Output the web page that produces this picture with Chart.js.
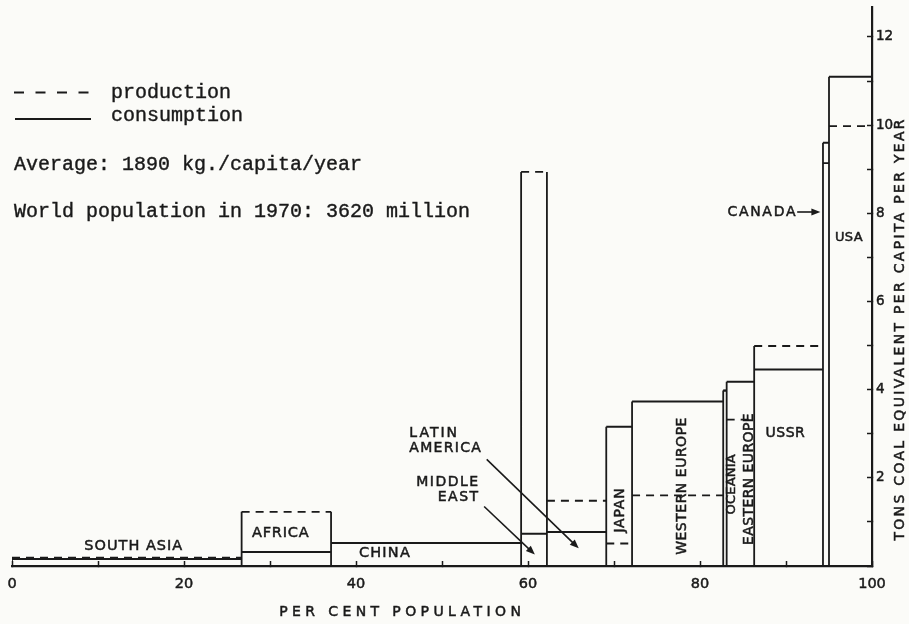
<!DOCTYPE html>
<html>
<head>
<meta charset="utf-8">
<title>Energy consumption and production per capita, 1970</title>
<script src="https://cdn.jsdelivr.net/npm/chart.js@4.4.1/dist/chart.umd.min.js"></script>
<style>
    html, body { margin: 0; padding: 0; background: #fbfbf8; }
    #wrap { position: relative; width: 909px; height: 624px; }
</style>
</head>
<body>
<div id="wrap"><canvas id="energyChart"></canvas></div>
<script>
// Regions in order of rising consumption per head
const regions = ['SOUTH ASIA', 'AFRICA', 'CHINA', 'MIDDLE EAST', 'LATIN AMERICA', 'JAPAN',
    'WESTERN EUROPE', 'OCEANIA', 'EASTERN EUROPE', 'USSR', 'CANADA', 'USA'];
// Share of world population (per cent) -> bar widths
const popShare = [26.7, 10.4, 22.1, 3.0, 6.9, 3.0, 10.6, 0.4, 3.2, 8.0, 0.7, 5.0];
// Tons coal equivalent per capita per year
const consumption = [0.16, 0.32, 0.52, 0.73, 0.77, 3.16, 3.73, 3.98, 4.18, 4.46, 9.60, 11.10];
const production = [0.19, 1.23, 0.52, 8.94, 1.48, 0.51, 1.60, 3.98, 3.32, 4.99, 9.14, 9.98];
// Labelled ticks
const xTickLabels = [0, 20, 40, 60, 80, 100];
const yTickLabels = [2, 4, 6, 8, 10, 12];

const ink = '#1a1a1a';
const letterFont = '"DejaVu Sans", sans-serif';
const typeFont = '"Liberation Mono", "Courier New", monospace';

// Region labels, placed in axis units
const notes = [
    { text: 'SOUTH ASIA', x: 14.1, y: 0.44, size: 14.5, spacing: 1 },
    { text: 'AFRICA', x: 31.2, y: 0.75, size: 14.5, spacing: 0.8 },
    { text: 'CHINA', x: 43.3, y: 0.28, size: 14.5, spacing: 1.2 },
    { text: 'LATIN', x: 46.2, y: 3.01, align: 'left', spacing: 2 },
    { text: 'AMERICA', x: 46.2, y: 2.67, align: 'left', spacing: 1.3 },
    { text: 'MIDDLE', x: 54.2, y: 1.90, align: 'right', spacing: 1.5 },
    { text: 'EAST', x: 54.2, y: 1.56, align: 'right', spacing: 1.5 },
    { text: 'CANADA', x: 91.1, y: 8.03, align: 'right', spacing: 1.7 },
    { text: 'USA', x: 97.3, y: 7.45, size: 13, spacing: 0.3 },
    { text: 'USSR', x: 89.9, y: 3.01, spacing: 0.5 },
    { text: 'JAPAN', x: 70.7, y: 1.26, rotate: true, spacing: 0.8 },
    { text: 'WESTERN EUROPE', x: 77.9, y: 1.81, rotate: true, spacing: 0.5 },
    { text: 'OCEANIA', x: 83.7, y: 1.85, rotate: true, size: 13, spacing: 0.2 },
    { text: 'EASTERN EUROPE', x: 85.7, y: 1.97, rotate: true, spacing: 0.4 }
];

// Pointer arrows (from -> to, axis units)
const arrows = [
    { from: [55.2, 2.42], to: [65.9, 0.40] },
    { from: [54.9, 1.35], to: [60.8, 0.26] },
    { from: [91.3, 8.03], to: [94.0, 8.03] }
];

// Build outline segments for each region box
const sides = [], consLines = [], prodLines = [];
let acc = 0;
popShare.forEach((share, i) => {
    const x0 = acc, x1 = Math.min(100, acc + share);
    acc += share;
    const top = Math.max(consumption[i], production[i]);
    sides.push({ x: x0, y: 0 }, { x: x0, y: top }, { x: x0, y: null },
        { x: x1, y: 0 }, { x: x1, y: top }, { x: x1, y: null });
    consLines.push({ x: x0, y: consumption[i] }, { x: x1, y: consumption[i] }, { x: x1, y: null });
    prodLines.push({ x: x0, y: production[i] }, { x: x1, y: production[i] }, { x: x1, y: null });
});

// letter-spaced text, filled plus a thin stroke for the heavier lettering
function spacedText(ctx, text, x, y, spacing, align) {
    ctx.letterSpacing = spacing + 'px';
    const w = ctx.measureText(text).width - spacing;
    const left = align === 'center' ? x - w / 2 : (align === 'right' ? x - w : x);
    ctx.textAlign = 'left';
    ctx.fillText(text, left, y);
    ctx.strokeText(text, left, y);
    ctx.letterSpacing = '0px';
}

function drawArrow(ctx, x1, y1, x2, y2) {
    const ang = Math.atan2(y2 - y1, x2 - x1);
    const head = 9, half = 3.6;
    ctx.beginPath();
    ctx.moveTo(x1, y1);
    ctx.lineTo(x2 - Math.cos(ang) * head * 0.8, y2 - Math.sin(ang) * head * 0.8);
    ctx.stroke();
    ctx.beginPath();
    ctx.moveTo(x2, y2);
    ctx.lineTo(x2 - Math.cos(ang) * head - Math.sin(ang) * half, y2 - Math.sin(ang) * head + Math.cos(ang) * half);
    ctx.lineTo(x2 - Math.cos(ang) * head + Math.sin(ang) * half, y2 - Math.sin(ang) * head - Math.cos(ang) * half);
    ctx.closePath();
    ctx.fill();
}

// scales keep the exact box size set here, without label overhang padding
function fixSize(prop, size) {
    return s => {
        s[prop] = size;
        s.paddingLeft = s.paddingRight = s.paddingTop = s.paddingBottom = 0;
    };
}

const annotate = {
    id: 'annotate',
    afterDraw(chart) {
        const { ctx, scales: { x, y } } = chart;
        ctx.save();
        ctx.fillStyle = ink;
        ctx.strokeStyle = ink;
        ctx.textBaseline = 'middle';

        // region names
        ctx.lineWidth = 0.5;
        notes.forEach(n => {
            ctx.font = `${n.size || 14}px ${letterFont}`;
            const px = x.getPixelForValue(n.x), py = y.getPixelForValue(n.y);
            if (n.rotate) {
                ctx.save();
                ctx.translate(px, py);
                ctx.rotate(-Math.PI / 2);
                spacedText(ctx, n.text, 0, 0, n.spacing, 'center');
                ctx.restore();
            } else {
                spacedText(ctx, n.text, px, py, n.spacing, n.align || 'center');
            }
        });

        // axis titles
        ctx.font = `14px ${letterFont}`;
        spacedText(ctx, 'PER CENT POPULATION', 400, 612, 4.4, 'center');
        ctx.save();
        ctx.translate(900, 330);
        ctx.rotate(-Math.PI / 2);
        spacedText(ctx, 'TONS COAL EQUIVALENT PER CAPITA PER YEAR', 0, 0, 2.3, 'center');
        ctx.restore();

        // arrows
        ctx.lineWidth = 1.6;
        arrows.forEach(a => {
            drawArrow(ctx, x.getPixelForValue(a.from[0]), y.getPixelForValue(a.from[1]),
                x.getPixelForValue(a.to[0]), y.getPixelForValue(a.to[1]));
        });

        // key and notes, typewritten
        ctx.lineWidth = 1.8;
        ctx.setLineDash([10, 11.5]);
        ctx.beginPath();
        ctx.moveTo(14, 92.5);
        ctx.lineTo(98, 92.5);
        ctx.stroke();
        ctx.setLineDash([]);
        ctx.beginPath();
        ctx.moveTo(15, 119);
        ctx.lineTo(91, 119);
        ctx.stroke();

        ctx.font = `20px ${typeFont}`;
        ctx.textBaseline = 'alphabetic';
        ctx.lineWidth = 0.4;
        [['production', 111, 97.5], ['consumption', 111, 121],
         ['Average: 1890 kg./capita/year', 14, 169.5],
         ['World population in 1970: 3620 million', 14, 216.5]].forEach(([t, tx, ty]) => {
            spacedText(ctx, t, tx, ty, 0, 'left');
        });
        ctx.restore();
    }
};

const lineStyle = {
    showLine: true,
    borderColor: ink,
    borderWidth: 1.8,
    pointRadius: 0,
    pointHoverRadius: 0,
    tension: 0,
    spanGaps: false,
    borderCapStyle: 'butt',
    borderJoinStyle: 'miter'
};

const tickFont = size => ({ family: letterFont, size: size });

new Chart(document.getElementById('energyChart'), {
    type: 'scatter',
    data: {
        datasets: [
            { label: 'sides', data: sides, ...lineStyle },
            { label: 'consumption', data: consLines, ...lineStyle, borderWidth: 2 },
            { label: 'production', data: prodLines, ...lineStyle, borderDash: [8, 6] }
        ]
    },
    options: {
        responsive: true,
        maintainAspectRatio: false,
        animation: false,
        events: [],
        layout: { padding: { left: 12, top: 7, right: 0, bottom: 0 } },
        plugins: {
            legend: { display: false },
            tooltip: { enabled: false }
        },
        scales: {
            x: {
                type: 'linear',
                min: 0,
                max: 100,
                afterFit: fixSize('height', 58),
                border: { color: ink, width: 2.2 },
                grid: { drawOnChartArea: false, tickLength: -5, tickColor: ink, tickWidth: 1.5 },
                ticks: {
                    stepSize: 10,
                    autoSkip: false,
                    maxRotation: 0,
                    padding: 15,
                    color: ink,
                    textStrokeColor: ink,
                    textStrokeWidth: 0.5,
                    font: tickFont(14.5),
                    callback: v => xTickLabels.includes(v) ? String(v) : ''
                }
            },
            y: {
                type: 'linear',
                position: 'right',
                min: 0,
                max: 12.68,
                afterFit: fixSize('width', 37),
                border: { color: ink, width: 2.2 },
                grid: { drawOnChartArea: false, tickLength: -5, tickColor: ink, tickWidth: 1.5 },
                ticks: {
                    stepSize: 1,
                    includeBounds: false,
                    autoSkip: false,
                    padding: 9,
                    color: ink,
                    textStrokeColor: ink,
                    textStrokeWidth: 0.5,
                    font: tickFont(13.5),
                    callback: v => yTickLabels.includes(v) ? String(v) : ''
                }
            }
        }
    },
    plugins: [annotate]
});
</script>
</body>
</html>
